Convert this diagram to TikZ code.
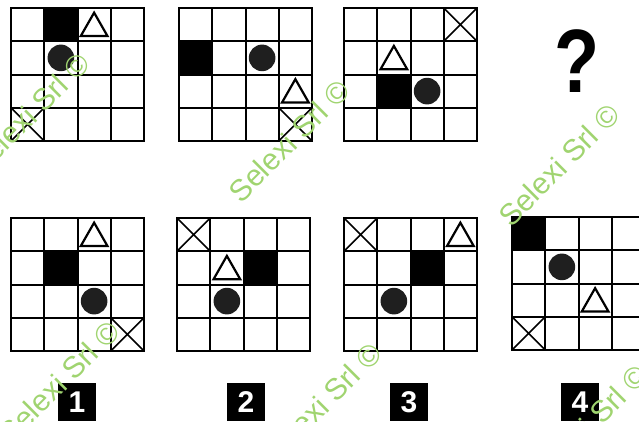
\documentclass[tikz,border=0pt]{standalone}
\usepackage{fontspec}
\setsansfont{Liberation Sans}
\definecolor{stampG}{RGB}{160,212,112}
\colorlet{discgray}{black!88}
\tikzstyle{boardline}=[line width=2pt, line cap=rect]
\tikzstyle{tag}=[fill=black, text=white, minimum size=38pt, inner sep=0pt, font=\fontsize{30}{30}\selectfont\sffamily\bfseries]
\tikzstyle{stamp}=[text=stampG, rotate=45, inner sep=0pt, font=\fontsize{30}{30}\selectfont\sffamily]
\tikzset{
  board/.pic={\foreach \i in {0,...,4}{
      \draw[boardline] (\i,0) -- (\i,4);
      \draw[boardline] (0,\i) -- (4,\i);}},
  block/.pic={\fill (-0.5,-0.5) rectangle (0.5,0.5);},
  dot/.pic={\fill[discgray] (0,0) circle (0.4);},
  tri/.pic={\draw[line width=2.2pt] (-0.4,0.34) -- (0.4,0.34) -- (0,-0.36) -- cycle;},
  cross/.pic={\draw[line width=1.6pt] (-0.5,-0.5) -- (0.5,0.5) (-0.5,0.5) -- (0.5,-0.5);},
}

\begin{document}
\begin{tikzpicture}[x=1pt, y=-1pt]
	\useasboundingbox (0,0) rectangle (639,421);
	\clip (0,0) rectangle (639,421);

	% Top row: the sequence
	\begin{scope}[shift={(11,8)}, x=33.25pt, y=-33.25pt]
		\pic at (1.5,0.5) {block};
		\pic at (2.5,0.5) {tri};
		\pic at (1.5,1.5) {dot};
		\pic at (0.5,3.5) {cross};
		\pic {board};
	\end{scope}
	\begin{scope}[shift={(179,8)}, x=33.25pt, y=-33.25pt]
		\pic at (0.5,1.5) {block};
		\pic at (2.5,1.5) {dot};
		\pic at (3.5,2.5) {tri};
		\pic at (3.5,3.5) {cross};
		\pic {board};
	\end{scope}
	\begin{scope}[shift={(344,8)}, x=33.25pt, y=-33.25pt]
		\pic at (3.5,0.5) {cross};
		\pic at (1.5,1.5) {tri};
		\pic at (1.5,2.5) {block};
		\pic at (2.5,2.5) {dot};
		\pic {board};
	\end{scope}
	\node[font=\fontsize{90}{90}\selectfont\sffamily\bfseries, inner sep=0pt] (quest) at (577,61) {\scalebox{0.82}[1]{?}};

	% Bottom row: the answers
	\begin{scope}[shift={(11,218)}, x=33.25pt, y=-33.25pt]
		\pic at (2.5,0.5) {tri};
		\pic at (1.5,1.5) {block};
		\pic at (2.5,2.5) {dot};
		\pic at (3.5,3.5) {cross};
		\pic {board};
	\end{scope}
	\begin{scope}[shift={(177,218)}, x=33.25pt, y=-33.25pt]
		\pic at (0.5,0.5) {cross};
		\pic at (1.5,1.5) {tri};
		\pic at (2.5,1.5) {block};
		\pic at (1.5,2.5) {dot};
		\pic {board};
	\end{scope}
	\begin{scope}[shift={(344,218)}, x=33.25pt, y=-33.25pt]
		\pic at (0.5,0.5) {cross};
		\pic at (3.5,0.5) {tri};
		\pic at (2.5,1.5) {block};
		\pic at (1.5,2.5) {dot};
		\pic {board};
	\end{scope}
	\begin{scope}[shift={(512,217)}, x=33.25pt, y=-33.25pt]
		\pic at (0.5,0.5) {block};
		\pic at (1.5,1.5) {dot};
		\pic at (2.5,2.5) {tri};
		\pic at (0.5,3.5) {cross};
		\pic {board};
	\end{scope}

	\node[tag] (lab1) at (77,402) {1};
	\node[tag] (lab2) at (246,402) {2};
	\node[tag] (lab3) at (409,402) {3};
	\node[tag] (lab4) at (580,402) {4};

	% Watermarks
	\node[stamp] (wm1) at (29,114) {Selexi Srl ©};
	\node[stamp] (wm2) at (289,141) {Selexi Srl ©};
	\node[stamp] (wm3) at (559,165) {Selexi Srl ©};
	\node[stamp] (wm4) at (59,382) {Selexi Srl ©};
	\node[stamp] (wm5) at (321,404) {Selexi Srl ©};
	\node[stamp] (wm6) at (587,426) {Selexi Srl ©};
\end{tikzpicture}
\end{document}
